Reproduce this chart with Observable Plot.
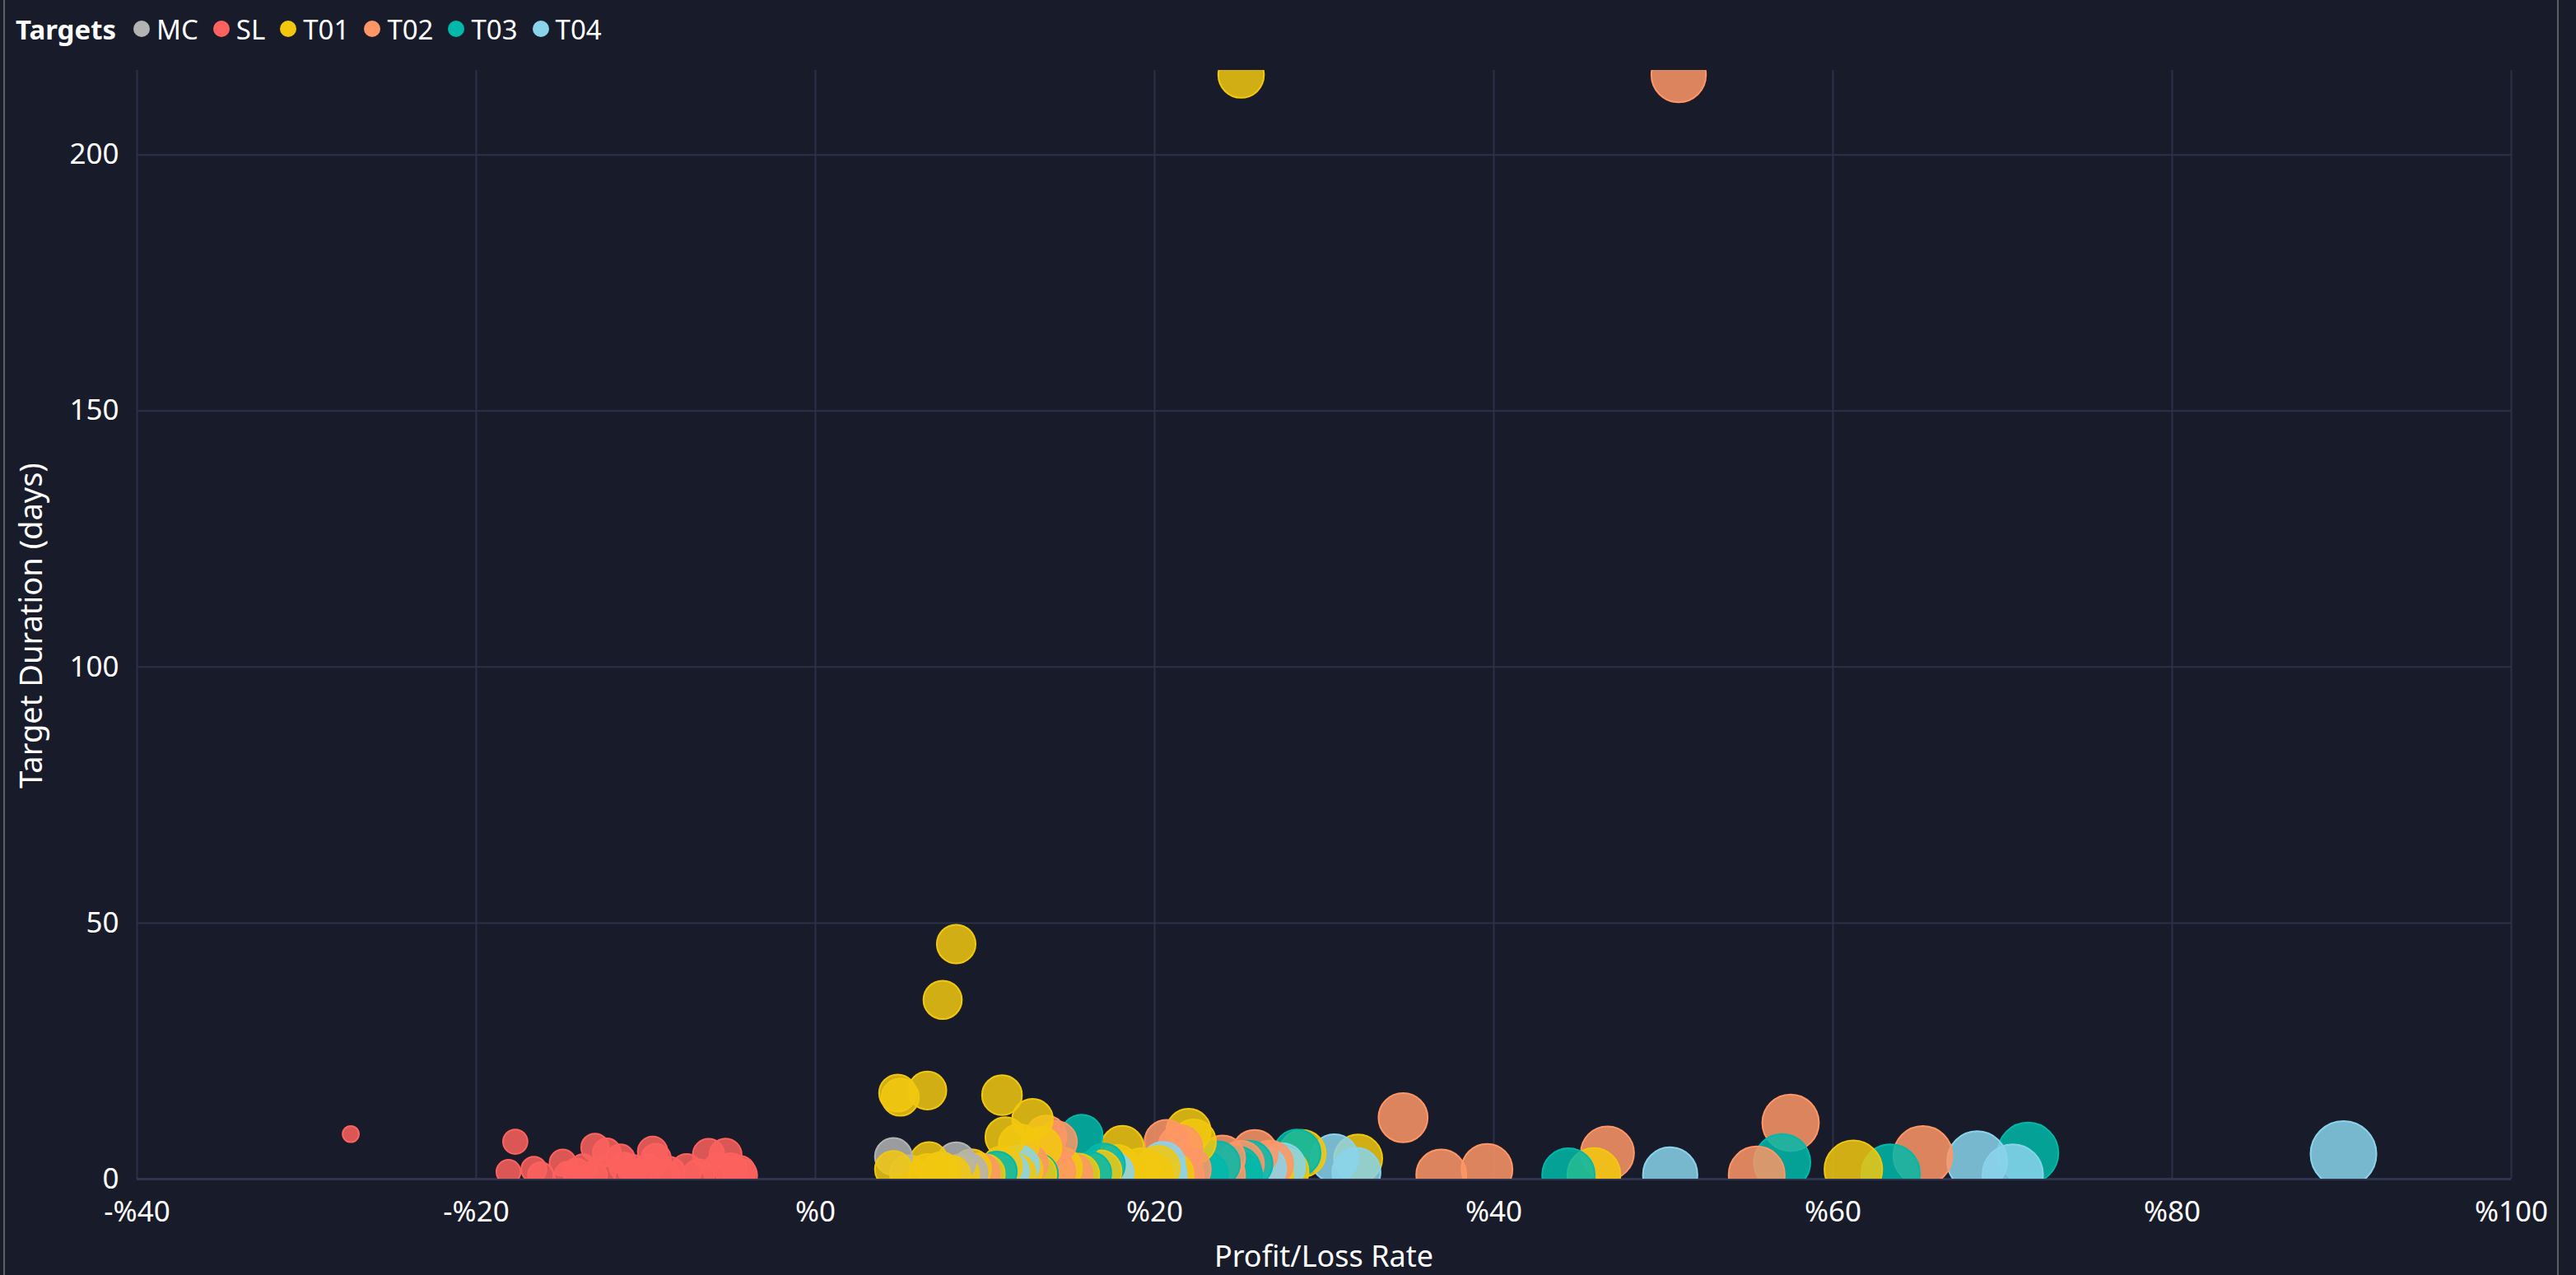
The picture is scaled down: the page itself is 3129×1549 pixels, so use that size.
<!DOCTYPE html>
<html>
<head>
<meta charset="utf-8">
<script src="https://cdn.jsdelivr.net/npm/d3@7"></script>
<script src="https://cdn.jsdelivr.net/npm/@observablehq/plot@0.6"></script>
<style>
  html, body { margin: 0; padding: 0; background: #181B29; width: 3129px; height: 1549px; overflow: hidden;
    font-family: "Segoe UI", "Noto Sans", sans-serif; color: #fff; }
  #legend { position: absolute; left: 19px; top: 0; height: 70px; display: flex; align-items: center; font-size: 33px; }
  #legend .title { font-weight: bold; margin-right: 21px; }
  #legend .item { display: flex; align-items: center; margin-right: 18px; }
  #legend .dot { width: 20px; height: 20px; border-radius: 50%; margin-right: 8px; }
  #chart { position: absolute; left: 0; top: 70px; }
  .border { position: absolute; top: 0; width: 2px; height: 1549px; background: #5e6066; }
  #xtitle { position: absolute; left: 1608px; top: 1526px; transform: translate(-50%, -50%); font-size: 36px; line-height: 1; white-space: nowrap; }
  #ytitle { position: absolute; left: 36px; top: 760px; transform: translate(-50%, -50%) rotate(-90deg); font-size: 38px; line-height: 1; white-space: nowrap; }
</style>
</head>
<body>
<div class="border" style="left:4px"></div>
<div class="border" style="left:3106px"></div>
<div id="legend"></div>
<div id="chart"></div>
<div id="xtitle">Profit/Loss Rate</div>
<div id="ytitle">Target Duration (days)</div>
<script>
// ---- Data (Profit/Loss Rate in %, Target Duration in days) ----
const targets = ["MC", "SL", "T01", "T02", "T03", "T04"];
const targetColors = ["#B3B3B3", "#FD625E", "#F2C80F", "#FE9666", "#01B8AA", "#8AD4EB"];
const xTicks = [-40, -20, 0, 20, 40, 60, 80, 100];
const yTicks = [0, 50, 100, 150, 200];

const mcRate = [4.6, 8.3, 9.0];
const mcDays = [4.4, 3.4, 1.2];

const slRate = [-27.4, -17.7, -18.1, -16.6, -16.2, -14.9, -14.6, -14.1, -13.7, -13.1, -13.0, -12.6, -12.3, -11.5, -11.3,
                -10.8, -10.5, -9.9, -9.6, -9.4, -8.9, -8.6, -7.6, -6.9, -6.3, -5.7, -5.3, -5.0, -4.5, -4.4];
const slDays = [8.8, 7.3, 1.4, 1.9, 0.8, 3.2, 0.8, 1.4, 2.2, 0.8, 6.2, 1.4, 5.2, 4.0, 2.4,
                1.9, 0.8, 1.9, 5.4, 4.0, 0.8, 1.4, 1.9, 0.8, 4.8, 1.9, 4.8, 1.9, 1.4, 0.8];

const t01Rate = [25.1, 8.3, 7.5, 4.85, 5.0, 6.6, 11.0, 12.8, 11.2, 12.0, 13.3, 18.1, 22.0, 22.3, 32.0, 45.9, 61.2, 28.7,
                 4.6, 5.5, 6.7, 6.6, 7.4, 8.0, 8.5, 9.2, 10.0, 11.0, 11.8, 12.2, 13.0, 14.5, 15.5, 16.8, 17.8, 18.2,
                 19.2, 19.8, 20.2, 21.0, 26.8, 27.7];
const t01Days = [215.6, 45.9, 35.0, 16.8, 16.0, 17.3, 16.4, 11.7, 8.2, 6.8, 6.2, 6.2, 9.4, 7.3, 4.0, 0.9, 1.9, 5.0,
                 1.9, 1.0, 3.5, 1.2, 1.5, 0.8, 1.0, 2.0, 1.0, 2.5, 1.0, 1.8, 1.0, 2.2, 0.9, 1.5, 2.5, 1.2,
                 1.8, 0.9, 2.2, 1.0, 0.9, 1.5];

const t02Rate = [50.9, 13.6, 14.2, 20.7, 21.5, 25.9, 24.0, 25.1, 26.8, 22.0, 34.65, 36.9, 39.6, 46.7, 55.5, 57.5, 65.3,
                 9.7, 14.1, 15.1, 21.6, 24.0, 26.4, 12.5];
const t02Days = [215.6, 8.4, 7.3, 7.3, 6.2, 5.1, 4.1, 3.0, 3.0, 1.9, 12.0, 0.9, 1.9, 5.1, 0.9, 11.0, 4.6,
                 1.2, 1.5, 1.0, 0.9, 0.9, 1.2, 3.0];

const t03Rate = [15.7, 28.4, 23.7, 25.6, 24.9, 44.4, 57.0, 63.4, 71.5, 10.7, 13.1, 16.2, 23.0, 25.0, 17.0];
const t03Days = [8.5, 5.1, 3.0, 3.0, 1.9, 0.9, 3.3, 1.1, 5.1, 1.5, 1.0, 1.2, 1.0, 0.8, 2.8];

const t04Rate = [30.6, 31.9, 20.5, 27.5, 50.4, 68.5, 70.6, 90.1, 11.4, 17.5, 20.6, 26.4, 12.0];
const t04Days = [4.1, 1.4, 3.0, 2.5, 0.9, 3.5, 0.9, 4.9, 1.5, 1.2, 0.9, 2.0, 2.6];

// ---- Build table ----
const seriesRates = [mcRate, slRate, t01Rate, t02Rate, t03Rate, t04Rate];
const seriesDays = [mcDays, slDays, t01Days, t02Days, t03Days, t04Days];
const rows = [];
targets.forEach((t, i) => {
  seriesRates[i].forEach((r, j) => rows.push({target: t, rate: r, days: seriesDays[i][j]}));
});

// ---- Legend ----
const legend = document.getElementById("legend");
legend.innerHTML = `<span class="title">Targets</span>` + targets.map((t, i) =>
  `<span class="item"><span class="dot" style="background:${targetColors[i]}"></span>${t}</span>`).join("");

// ---- Chart ----
const fmtPct = d => (d < 0 ? "-" : "") + "%" + Math.abs(d);
const gridColor = "#2c3049";

const chart = Plot.plot({
  width: 3129,
  height: 1479,
  marginTop: 15,
  marginBottom: 117,
  marginLeft: 166,
  marginRight: 79,
  style: {background: "transparent", color: "#fff", fontSize: "35px", fontFamily: "'Segoe UI', 'Noto Sans', sans-serif"},
  x: {domain: [-40, 100], ticks: xTicks, tickFormat: fmtPct, tickSize: 0, tickPadding: 27, label: null},
  y: {domain: [0, 216.5], ticks: yTicks, tickSize: 0, tickPadding: 22, label: null},
  color: {domain: targets, range: targetColors},
  r: {type: "sqrt", domain: [0, 125], range: [0, 40]},
  marks: [
    Plot.ruleX(xTicks, {stroke: gridColor, strokeWidth: 2}),
    Plot.ruleY(yTicks.slice(1), {stroke: gridColor, strokeWidth: 2}),
    Plot.ruleY([0], {stroke: "#30354f", strokeWidth: 3}),
    Plot.dot(rows, {
      x: "rate", y: "days",
      r: d => d.rate + 35,
      fill: "target", fillOpacity: 0.85,
      stroke: "target", strokeWidth: 2,
      clip: true
    })
  ]
});
document.getElementById("chart").appendChild(chart);
</script>
</body>
</html>
